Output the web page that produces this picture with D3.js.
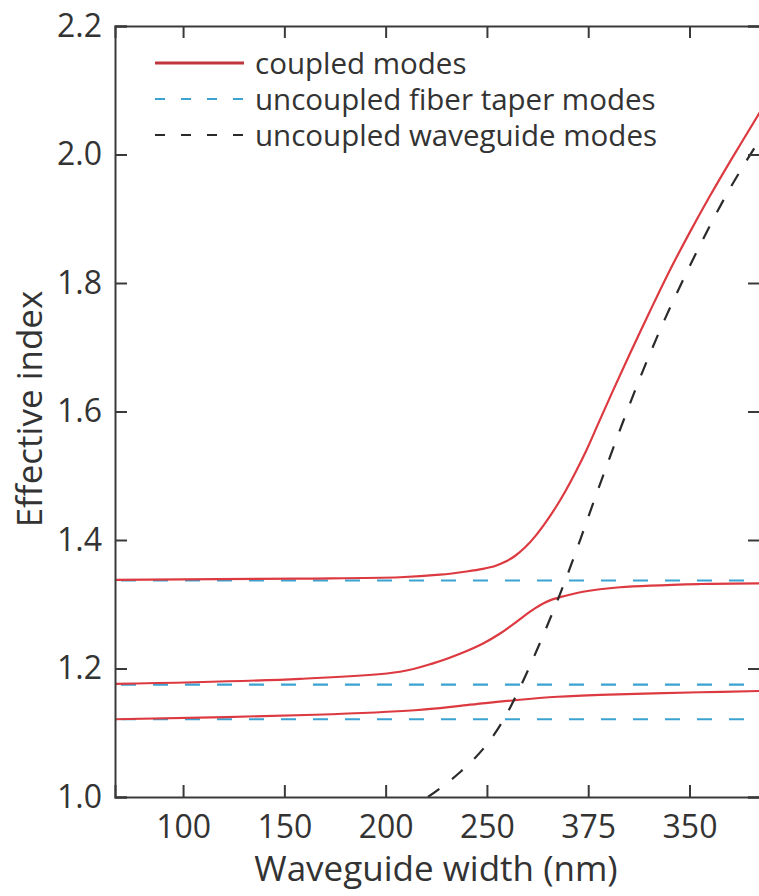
<!DOCTYPE html>
<html>
<head>
<meta charset="utf-8">
<script src="https://cdn.jsdelivr.net/npm/d3@7/dist/d3.min.js"></script>
<style>
  html, body { margin: 0; padding: 0; background: #fff; }
  svg { display: block; font-family: "Open Sans", "Noto Sans", sans-serif; }
</style>
</head>
<body>
<svg id="chart" width="759" height="896"></svg>
<script>
// ---- data ----
const xTicks = [100, 150, 200, 250, 300, 350];
const xTickLabels = ["100", "150", "200", "250", "375", "350"];
const yTicks = [1.0, 1.2, 1.4, 1.6, 1.8, 2.0, 2.2];
const yTickLabels = ["1.0", "1.2", "1.4", "1.6", "1.8", "2.0", "2.2"];

// coupled modes (red solid)
const coupled1W = [66.4, 157.7, 207.1, 226.8, 240, 248, 254, 259, 264, 269, 274, 279, 284, 289, 294, 299, 305, 312, 320, 330, 340, 350, 360, 370, 384.8];
const coupled1N = [1.338, 1.340, 1.342, 1.346, 1.351, 1.355, 1.3595, 1.366, 1.3755, 1.389, 1.4065, 1.4275, 1.451, 1.4775, 1.507, 1.539, 1.5815, 1.631, 1.686, 1.753, 1.818, 1.878, 1.935, 1.989, 2.066];

const coupled2W = [66.4, 157.7, 207.1, 223.4, 236.7, 248.1, 256.5, 264.9, 271.3, 276.2, 281.1, 286.1, 297.4, 315.7, 355.2, 384.8];
const coupled2N = [1.176, 1.184, 1.195, 1.208, 1.223, 1.239, 1.2545, 1.2735, 1.2885, 1.2985, 1.306, 1.311, 1.3195, 1.3265, 1.3315, 1.3325];

const coupled3W = [66.4, 165.1, 214.5, 240.0, 264.9, 285.0, 305.8, 355.2, 384.8];
const coupled3N = [1.121, 1.128, 1.135, 1.143, 1.151, 1.156, 1.159, 1.163, 1.165];

// uncoupled fiber taper modes (blue dashed, constant)
const taperLevels = [1.337, 1.175, 1.121];
const taperW = [66.4, 384.8];

// uncoupled waveguide mode (black dashed)
const wgW = [220.9, 229.3, 236.7, 244, 250, 255, 260, 265, 271, 278, 285, 291, 297, 303, 310, 317, 324, 331, 338, 346, 354, 362, 370, 378, 384.8];
const wgN = [1.000, 1.0193, 1.0385, 1.0604, 1.082, 1.104, 1.1305, 1.1615, 1.2023, 1.2534, 1.3073, 1.3565, 1.4087, 1.4621, 1.523, 1.5825, 1.6399, 1.6938, 1.7449, 1.7993, 1.8513, 1.9009, 1.9473, 1.9897, 2.0237];

const legendLabels = ["coupled modes", "uncoupled fiber taper modes", "uncoupled waveguide modes"];

// ---- chart ----
const svg = d3.select("#chart");
const mLeft = 115, mRight = 760, mTop = 26, mBottom = 797;
const x = d3.scaleLinear().domain([66.4, 384.8]).range([mLeft, mRight]);
const y = d3.scaleLinear().domain([1.0, 2.2]).range([mBottom, mTop]);

const axisColor = "#3a3a3a";
const textColor = "#333";
const red = "#dc3a40";
const blue = "#3aa3d2";
const black = "#2a2a2a";

const defs = svg.append("defs");
defs.append("clipPath").attr("id", "clip").append("rect")
  .attr("x", mLeft).attr("y", mTop).attr("width", mRight - mLeft).attr("height", mBottom - mTop);

const plot = svg.append("g").attr("clip-path", "url(#clip)");
const line = d3.line().x(d => x(d[0])).y(d => y(d[1])).curve(d3.curveCatmullRom.alpha(0.5));

// blue dashed taper modes
taperLevels.forEach(v => {
  plot.append("path")
    .datum(taperW.map(w => [w, v]))
    .attr("d", d3.line().x(d => x(d[0])).y(d => y(d[1])))
    .attr("fill", "none").attr("stroke", blue).attr("stroke-width", 2.2)
    .attr("stroke-dasharray", "15,17").attr("stroke-dashoffset", -6);
});

// red coupled modes
[[coupled1W, coupled1N], [coupled2W, coupled2N], [coupled3W, coupled3N]].forEach(([ws, ns]) => {
  plot.append("path")
    .datum(ws.map((w, i) => [w, ns[i]]))
    .attr("d", line)
    .attr("fill", "none").attr("stroke", red).attr("stroke-width", 2.2);
});

// black dashed waveguide mode
plot.append("path")
  .datum(wgW.map((w, i) => [w, wgN[i]]))
  .attr("d", line)
  .attr("fill", "none").attr("stroke", black).attr("stroke-width", 2.2)
  .attr("stroke-dasharray", "14,16");

// axes (ticks inward)
const tickLen = 12;
const xAxisB = d3.axisBottom(x).tickValues(xTicks).tickSize(-tickLen).tickFormat((d, i) => xTickLabels[i]).tickPadding(18);
const xAxisT = d3.axisTop(x).tickValues(xTicks).tickSize(-tickLen).tickFormat("");
const yAxisL = d3.axisLeft(y).tickValues(yTicks).tickSize(-tickLen).tickFormat((d, i) => yTickLabels[i]).tickPadding(13);
const yAxisR = d3.axisRight(y).tickValues(yTicks).tickSize(-tickLen).tickFormat("");

function styleAxis(g) {
  g.select(".domain").attr("stroke", axisColor).attr("stroke-width", 2);
  g.selectAll(".tick line").attr("stroke", axisColor).attr("stroke-width", 2);
  g.selectAll(".tick text").attr("fill", textColor).attr("font-size", 32)
    .attr("font-family", "'Open Sans', 'Noto Sans', sans-serif");
}
svg.append("g").attr("transform", `translate(0,${mBottom})`).call(xAxisB).call(styleAxis);
svg.append("g").attr("transform", `translate(0,${mTop})`).call(xAxisT).call(styleAxis);
svg.append("g").attr("transform", `translate(${mLeft},0)`).call(yAxisL).call(styleAxis);
svg.append("g").attr("transform", `translate(${mRight},0)`).call(yAxisR).call(styleAxis);

// axis titles
svg.append("text")
  .attr("x", 436).attr("y", 881)
  .attr("text-anchor", "middle").attr("font-size", 35).attr("fill", textColor)
  .text("Waveguide width (nm)");
svg.append("text")
  .attr("transform", "translate(42,409) rotate(-90)")
  .attr("text-anchor", "middle").attr("font-size", 35).attr("fill", textColor)
  .text("Effective index");

// legend
const legY = [63, 99, 135];
const lg = svg.append("g");
lg.append("line").attr("x1", 155).attr("x2", 244).attr("y1", legY[0]).attr("y2", legY[0])
  .attr("stroke", "#c0343c").attr("stroke-width", 3.2);
lg.append("line").attr("x1", 155).attr("x2", 244).attr("y1", legY[1]).attr("y2", legY[1])
  .attr("stroke", blue).attr("stroke-width", 2.2).attr("stroke-dasharray", "10,16");
lg.append("line").attr("x1", 155).attr("x2", 244).attr("y1", legY[2]).attr("y2", legY[2])
  .attr("stroke", black).attr("stroke-width", 2.2).attr("stroke-dasharray", "10,16");
legendLabels.forEach((t, i) => {
  lg.append("text").attr("x", 255).attr("y", legY[i]).attr("dy", "0.36em")
    .attr("font-size", 29.5).attr("fill", textColor).text(t);
});
</script>
</body>
</html>
